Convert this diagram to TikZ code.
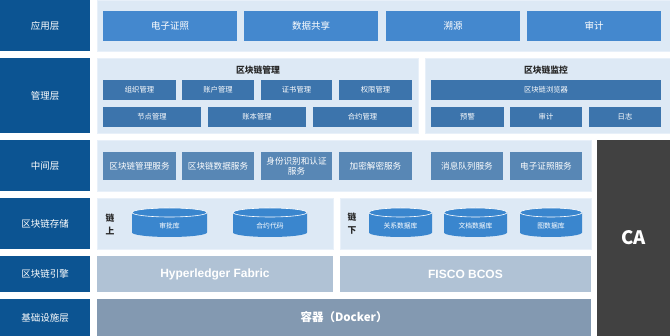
\documentclass[tikz,border=0pt]{standalone}
\usepackage{fontspec}
\setmainfont{Noto Sans CJK SC}
\newfontfamily\latinsans{Liberation Sans}
\definecolor{layerblue}{RGB}{12,84,146}
\definecolor{panelbg}{RGB}{221,233,245}
\definecolor{paneledge}{RGB}{232,240,249}
\definecolor{appblue}{RGB}{68,136,206}
\definecolor{mgmtblue}{RGB}{60,116,172}
\definecolor{midblue}{RGB}{88,135,181}
\definecolor{cylblue}{RGB}{58,134,206}
\definecolor{engcol}{RGB}{176,194,213}
\definecolor{infracol}{RGB}{131,153,177}
\definecolor{cagray}{RGB}{65,65,65}
\definecolor{titlegray}{RGB}{40,40,40}
\newcommand{\bx}[7]{\node[#1, anchor=north west, minimum width={(#5-#3)*1pt}, minimum height={(#6-#4)*1pt}] (#2) at (#3,#4) {#7};}
\newcommand{\dbcyl}[6]{%
  \fill[cylblue] (#2,#4+4.5) -- (#2,#5-4.5) arc[start angle=180,end angle=0,x radius={(#3-#2)/2},y radius=4.5] -- (#3,#4+4.5) -- cycle;
  \filldraw[fill=cylblue, draw=white, line width=0.6pt] ({(#2+#3)/2},#4+4.5) ellipse [x radius={(#3-#2)/2}, y radius=4.5];
  \node[cyltext] (#1) at ({(#2+#3)/2},{(#5+#4)/2+3}) {#6};}
\begin{document}
\begin{tikzpicture}[x=1pt,y=-1pt,
  every node/.style={inner sep=0pt, outer sep=0pt, align=center},
  layer/.style={fill=layerblue, text=white, font=\fontsize{9.5}{11}\selectfont},
  panel/.style={fill=panelbg, draw=paneledge, line width=0.8pt},
  appbox/.style={fill=appblue, text=white, font=\fontsize{9.5}{11}\selectfont},
  mgmtbox/.style={fill=mgmtblue, text=white, font=\fontsize{7.3}{8.5}\selectfont},
  midbox/.style={fill=midblue, text=white, font=\fontsize{8.6}{10}\selectfont},
  paneltitle/.style={text=titlegray, font=\bfseries\fontsize{8.8}{10}\selectfont},
  chainlabel/.style={text=titlegray, font=\bfseries\fontsize{8.8}{13}\selectfont},
  cyltext/.style={text=white, font=\fontsize{6.8}{8}\selectfont},
  engbox/.style={fill=engcol, text=white, font=\latinsans\bfseries\fontsize{12}{14}\selectfont},
  infrabox/.style={fill=infracol, text=white, font=\bfseries\fontsize{11.5}{13}\selectfont},
  cabox/.style={fill=cagray, text=white, font=\bfseries\fontsize{18.5}{20}\selectfont}
]
\useasboundingbox (0,0) rectangle (670,336);
\fill[white] (0,0) rectangle (670,336);
% layer labels
\bx{layer}{L1}{0}{0}{90}{51}{应用层}
\bx{layer}{L2}{0}{58}{90}{133}{管理层}
\bx{layer}{L3}{0}{140}{90}{191}{中间层}
\bx{layer}{L4}{0}{198}{90}{249}{区块链存储}
\bx{layer}{L5}{0}{256}{90}{292}{区块链引擎}
\bx{layer}{L6}{0}{299}{90}{336}{基础设施层}
% panels
\bx{panel}{Papp}{97}{0}{670}{51}{}
\bx{panel}{Pmgmt}{97}{58}{418}{133}{}
\bx{panel}{Pmon}{425}{58}{670}{133}{}
\bx{panel}{Pmid}{97}{140}{591}{191}{}
\bx{panel}{Pon}{97}{198}{333}{249}{}
\bx{panel}{Poff}{340}{198}{591}{249}{}
% app layer
\bx{appbox}{A1}{103}{11}{237}{41}{电子证照}
\bx{appbox}{A2}{244}{11}{378}{41}{数据共享}
\bx{appbox}{A3}{386}{11}{520}{41}{溯源}
\bx{appbox}{A4}{527}{11}{661}{41}{审计}
% management layer
\node[paneltitle] (T1) at (258,70) {区块链管理};
\node[paneltitle] (T2) at (546,70) {区块链监控};
\bx{mgmtbox}{M1}{103}{80}{176}{100}{组织管理}
\bx{mgmtbox}{M2}{182}{80}{254}{100}{账户管理}
\bx{mgmtbox}{M3}{261}{80}{332}{100}{证书管理}
\bx{mgmtbox}{M4}{339}{80}{412}{100}{权限管理}
\bx{mgmtbox}{M5}{103}{107}{201}{127}{节点管理}
\bx{mgmtbox}{M6}{208}{107}{306}{127}{账本管理}
\bx{mgmtbox}{M7}{313}{107}{412}{127}{合约管理}
\bx{mgmtbox}{N1}{431}{80}{661}{100}{区块链浏览器}
\bx{mgmtbox}{N2}{431}{107}{504}{127}{预警}
\bx{mgmtbox}{N3}{510}{107}{582}{127}{审计}
\bx{mgmtbox}{N4}{589}{107}{661}{127}{日志}
% middle layer
\bx{midbox}{S1}{103}{152}{176}{180}{区块链管理服务}
\bx{midbox}{S2}{182}{152}{254}{180}{区块链数据服务}
\bx{midbox}{S3}{261}{152}{332}{180}{身份识别和认证\\服务}
\bx{midbox}{S4}{339}{152}{412}{180}{加密解密服务}
\bx{midbox}{S5}{431}{152}{503}{180}{消息队列服务}
\bx{midbox}{S6}{510}{152}{582}{180}{电子证照服务}
% storage
\node[chainlabel] (on) at (110,224) {链\\上};
\node[chainlabel] (off) at (352,224) {链\\下};
\dbcyl{D1}{132}{207}{208}{237}{审批库}
\dbcyl{D2}{233}{307}{208}{237}{合约代码}
\dbcyl{D3}{369}{432}{208}{237}{关系数据库}
\dbcyl{D4}{444}{507}{208}{237}{文档数据库}
\dbcyl{D5}{520}{582}{208}{237}{图数据库}
% engine
\bx{engbox}{E1}{97}{256}{333}{292}{Hyperledger Fabric}
\bx{engbox}{E2}{340}{256}{591}{292}{FISCO BCOS}
% infrastructure
\bx{infrabox}{I1}{97}{299}{591}{336}{容器（Docker）}
% CA
\bx{cabox}{CA}{597}{140}{670}{336}{CA}
\end{tikzpicture}
\end{document}
